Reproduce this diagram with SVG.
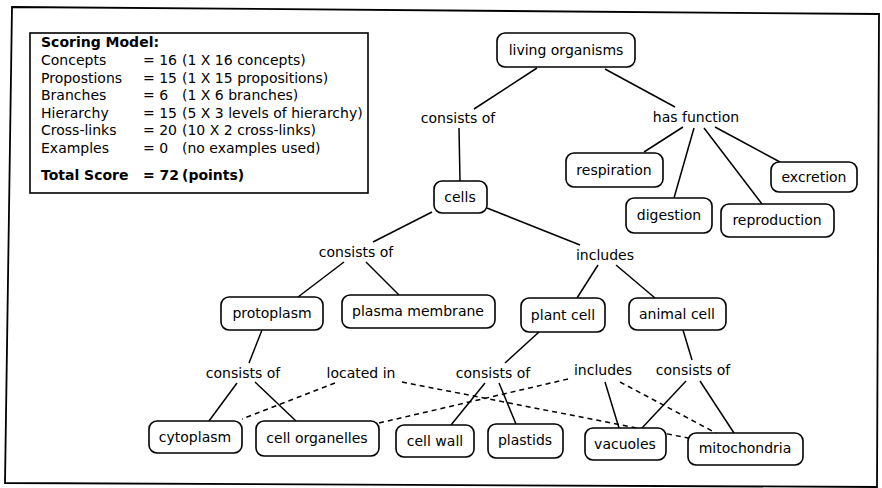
<svg xmlns="http://www.w3.org/2000/svg" width="882" height="488" viewBox="0 0 882 488">
<style>
text{font-family:"DejaVu Sans","Liberation Sans",sans-serif;font-size:14px;fill:#000}
.n rect{fill:#fff;stroke:#000;stroke-width:1.6}
.n text,.lbl text{text-anchor:middle}
#connectors line{stroke:#000;stroke-width:1.5}
#connectors .d{stroke-dasharray:5 4}
.b{font-weight:bold}
</style>
<rect width="882" height="488" fill="#fff"/>
<polygon points="12,7 879,14 877,487 5,483" fill="none" stroke="#000" stroke-width="1.8"/>
<g id="scoring">
<rect x="30" y="33" width="338" height="160" fill="#fff" stroke="#000" stroke-width="1.6"/>
<text x="41" y="47" class="b">Scoring Model:</text>
<text x="41" y="65">Concepts</text><text x="143" y="65">= 16</text><text x="182" y="65">(1 X 16 concepts)</text>
<text x="41" y="83">Propostions</text><text x="143" y="83">= 15</text><text x="182" y="83">(1 X 15 propositions)</text>
<text x="41" y="100">Branches</text><text x="143" y="100">= 6</text><text x="182" y="100">(1 X 6 branches)</text>
<text x="41" y="118">Hierarchy</text><text x="143" y="118">= 15</text><text x="182" y="118">(5 X 3 levels of hierarchy)</text>
<text x="41" y="135">Cross-links</text><text x="143" y="135">= 20</text><text x="182" y="135">(10 X 2 cross-links)</text>
<text x="41" y="153">Examples</text><text x="143" y="153">= 0</text><text x="182" y="153">(no examples used)</text>
<text x="41" y="180" class="b">Total Score</text><text x="143" y="180" class="b">= 72</text><text x="182" y="180" class="b">(points)</text>
</g>
<g id="connectors">
<line x1="537" y1="68" x2="474" y2="109"/>
<line x1="459" y1="128" x2="460" y2="181"/>
<line x1="605" y1="69" x2="675" y2="107"/>
<line x1="683" y1="127" x2="644" y2="152"/>
<line x1="694" y1="128" x2="674" y2="198"/>
<line x1="704" y1="128" x2="762" y2="204"/>
<line x1="715" y1="127" x2="780" y2="162"/>
<line x1="432" y1="212" x2="373" y2="242"/>
<line x1="487" y1="208" x2="580" y2="245"/>
<line x1="344" y1="262" x2="298" y2="297"/>
<line x1="366" y1="262" x2="399" y2="295"/>
<line x1="598" y1="265" x2="577" y2="298"/>
<line x1="616" y1="265" x2="655" y2="298"/>
<line x1="262" y1="330" x2="249" y2="363"/>
<line x1="237" y1="383" x2="209" y2="421"/>
<line x1="255" y1="382" x2="296" y2="421"/>
<line x1="539" y1="332" x2="505" y2="363"/>
<line x1="485" y1="383" x2="451" y2="425"/>
<line x1="499" y1="383" x2="516" y2="424"/>
<line x1="683" y1="330" x2="692" y2="360"/>
<line x1="686" y1="381" x2="642" y2="428"/>
<line x1="700" y1="381" x2="734" y2="433"/>
<line x1="605" y1="382" x2="619" y2="428"/>
<line class="d" x1="335" y1="383" x2="242" y2="419"/>
<line class="d" x1="402" y1="382" x2="688" y2="438"/>
<line class="d" x1="568" y1="379" x2="379" y2="423"/>
<line class="d" x1="620" y1="382" x2="716" y2="433"/>
</g>
<g class="lbl" id="labels">
<text x="458" y="123">consists of</text>
<text x="696" y="122">has function</text>
<text x="356" y="257">consists of</text>
<text x="605" y="260">includes</text>
<text x="243" y="378">consists of</text>
<text x="361" y="378">located in</text>
<text x="493" y="378">consists of</text>
<text x="603" y="375">includes</text>
<text x="693" y="375">consists of</text>
</g>
<g class="n" id="living-organisms"><rect x="497" y="33" width="138" height="34" rx="8"/><text x="566" y="55">living organisms</text></g>
<g class="n" id="cells"><rect x="434" y="181" width="53" height="32" rx="8"/><text x="460" y="202">cells</text></g>
<g class="n" id="respiration"><rect x="566" y="153" width="97" height="34" rx="8"/><text x="614" y="175">respiration</text></g>
<g class="n" id="digestion"><rect x="626" y="198" width="86" height="35" rx="8"/><text x="669" y="220">digestion</text></g>
<g class="n" id="reproduction"><rect x="721" y="204" width="113" height="33" rx="8"/><text x="777" y="225">reproduction</text></g>
<g class="n" id="excretion"><rect x="771" y="162" width="86" height="30" rx="8"/><text x="814" y="182">excretion</text></g>
<g class="n" id="protoplasm"><rect x="221" y="297" width="102" height="33" rx="8"/><text x="272" y="318">protoplasm</text></g>
<g class="n" id="plasma-membrane"><rect x="342" y="295" width="153" height="33" rx="8"/><text x="418" y="316">plasma membrane</text></g>
<g class="n" id="plant-cell"><rect x="521" y="298" width="84" height="34" rx="8"/><text x="563" y="320">plant cell</text></g>
<g class="n" id="animal-cell"><rect x="629" y="298" width="97" height="32" rx="8"/><text x="677" y="319">animal cell</text></g>
<g class="n" id="cytoplasm"><rect x="149" y="421" width="93" height="32" rx="8"/><text x="195" y="442">cytoplasm</text></g>
<g class="n" id="cell-organelles"><rect x="256" y="421" width="123" height="35" rx="8"/><text x="317" y="443">cell organelles</text></g>
<g class="n" id="cell-wall"><rect x="396" y="425" width="78" height="32" rx="8"/><text x="435" y="446">cell wall</text></g>
<g class="n" id="plastids"><rect x="488" y="424" width="75" height="34" rx="8"/><text x="525" y="445">plastids</text></g>
<g class="n" id="vacuoles"><rect x="585" y="428" width="81" height="32" rx="8"/><text x="625" y="449">vacuoles</text></g>
<g class="n" id="mitochondria"><rect x="688" y="433" width="115" height="32" rx="8"/><text x="745" y="453">mitochondria</text></g>
</svg>
